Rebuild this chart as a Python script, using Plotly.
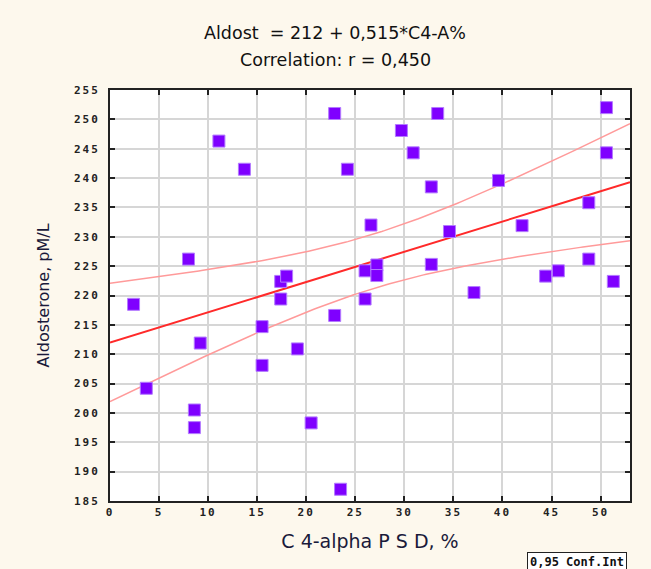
import numpy as np
import plotly.graph_objects as go

# Data
c4_alpha_psd = [2.4, 3.7, 8.0, 8.6, 8.6, 9.2, 11.1, 13.7, 15.5, 15.5,
                17.4, 18.0, 17.4, 19.1, 20.5, 22.9, 22.9, 23.5, 24.2, 26.0,
                26.0, 26.6, 27.2, 27.2, 29.7, 30.9, 32.75, 32.75, 33.4, 34.6,
                37.1, 39.6, 42.0, 44.4, 45.7, 48.8, 48.8, 50.6, 50.6, 51.3]
aldosterone = [218.5, 204.2, 226.2, 200.5, 197.5, 211.9, 246.3, 241.5, 214.7, 208.1,
               222.4, 223.3, 219.4, 210.9, 198.3, 216.6, 251.0, 187.0, 241.5, 224.2,
               219.4, 232.0, 225.2, 223.4, 248.1, 244.3, 238.5, 225.3, 251.0, 230.9,
               220.5, 239.6, 231.9, 223.3, 224.2, 235.8, 226.2, 252.0, 244.3, 222.4]

intercept = 212.0
slope = 0.515
x_ticks = [0, 5, 10, 15, 20, 25, 30, 35, 40, 45, 50]
y_ticks = [185, 190, 195, 200, 205, 210, 215, 220, 225, 230, 235, 240, 245, 250, 255]

x = np.array(c4_alpha_psd)
y = np.array(aldosterone)
n = len(x)
xs = np.linspace(0, 53, 200)
fit = intercept + slope * xs
resid = y - (intercept + slope * x)
s = np.sqrt(np.sum(resid ** 2) / (n - 2))
sxx = np.sum((x - x.mean()) ** 2)
t = 2.024
hw = t * s * np.sqrt(1.0 / n + (xs - x.mean()) ** 2 / sxx)

fig = go.Figure()
fig.add_trace(go.Scatter(x=xs, y=fit + hw, mode="lines",
                         line=dict(color="#ff9a9a", width=1.5), hoverinfo="skip"))
fig.add_trace(go.Scatter(x=xs, y=fit - hw, mode="lines",
                         line=dict(color="#ff9a9a", width=1.5), hoverinfo="skip"))
fig.add_trace(go.Scatter(x=xs, y=fit, mode="lines",
                         line=dict(color="#ff2a2a", width=2), hoverinfo="skip"))
fig.add_trace(go.Scatter(x=c4_alpha_psd, y=aldosterone, mode="markers",
                         marker=dict(symbol="square", size=12, color="#7f00ff",
                                     line=dict(color="#b37bff", width=1))))

axis_common = dict(
    showgrid=True, gridcolor="#d6d6d6", gridwidth=2,
    showline=True, linecolor="#222222", linewidth=2, mirror="ticks",
    ticks="inside", ticklen=5, tickwidth=2, tickcolor="#222222",
    zeroline=False,
    tickfont=dict(family="DejaVu Sans Mono", size=11, color="#222222", weight="bold"),
)

fig.update_layout(
    width=651, height=569,
    paper_bgcolor="#fdf8ed", plot_bgcolor="#ffffff",
    showlegend=False,
    margin=dict(l=110, r=21, t=90, b=68),
    xaxis=dict(range=[0, 53], tickvals=x_ticks, **axis_common,
               title=dict(text="C 4-alpha P S D, %", standoff=16,
                          font=dict(family="DejaVu Sans", size=19, color="#1a1a3a"))),
    yaxis=dict(range=[185, 255], tickvals=y_ticks, ticklabelstandoff=6, **axis_common,
               title=dict(text="Aldosterone, pM/L", standoff=26,
                          font=dict(family="DejaVu Sans", size=16, color="#1a1a3a"))),
    annotations=[
        dict(text="Aldost  = 212 + 0,515*C4-A%", xref="paper", yref="paper",
             x=0.433, y=1.0, yshift=57, showarrow=False, yanchor="middle",
             font=dict(family="DejaVu Sans", size=17.5, color="#111111")),
        dict(text="Correlation: r = 0,450", xref="paper", yref="paper",
             x=0.433, y=1.0, yshift=30, showarrow=False, yanchor="middle",
             font=dict(family="DejaVu Sans", size=17.5, color="#111111")),
        dict(text="0,95 Conf.Int", xref="paper", yref="paper",
             x=0.0, xshift=417, y=0, yshift=-51, showarrow=False,
             xanchor="left", yanchor="top",
             bordercolor="#222222", borderwidth=1, borderpad=2, bgcolor="#ffffff",
             font=dict(family="DejaVu Sans Mono", size=12, color="#111111", weight="bold")),
    ],
)

post = ("var s=document.createElement('style');"
        "s.innerHTML='body{margin:0;overflow:hidden} .xtick text,.ytick text{letter-spacing:2px}';"
        "document.head.appendChild(s);")

fig.write_html("out.html", post_script=post, config={"displayModeBar": False})
